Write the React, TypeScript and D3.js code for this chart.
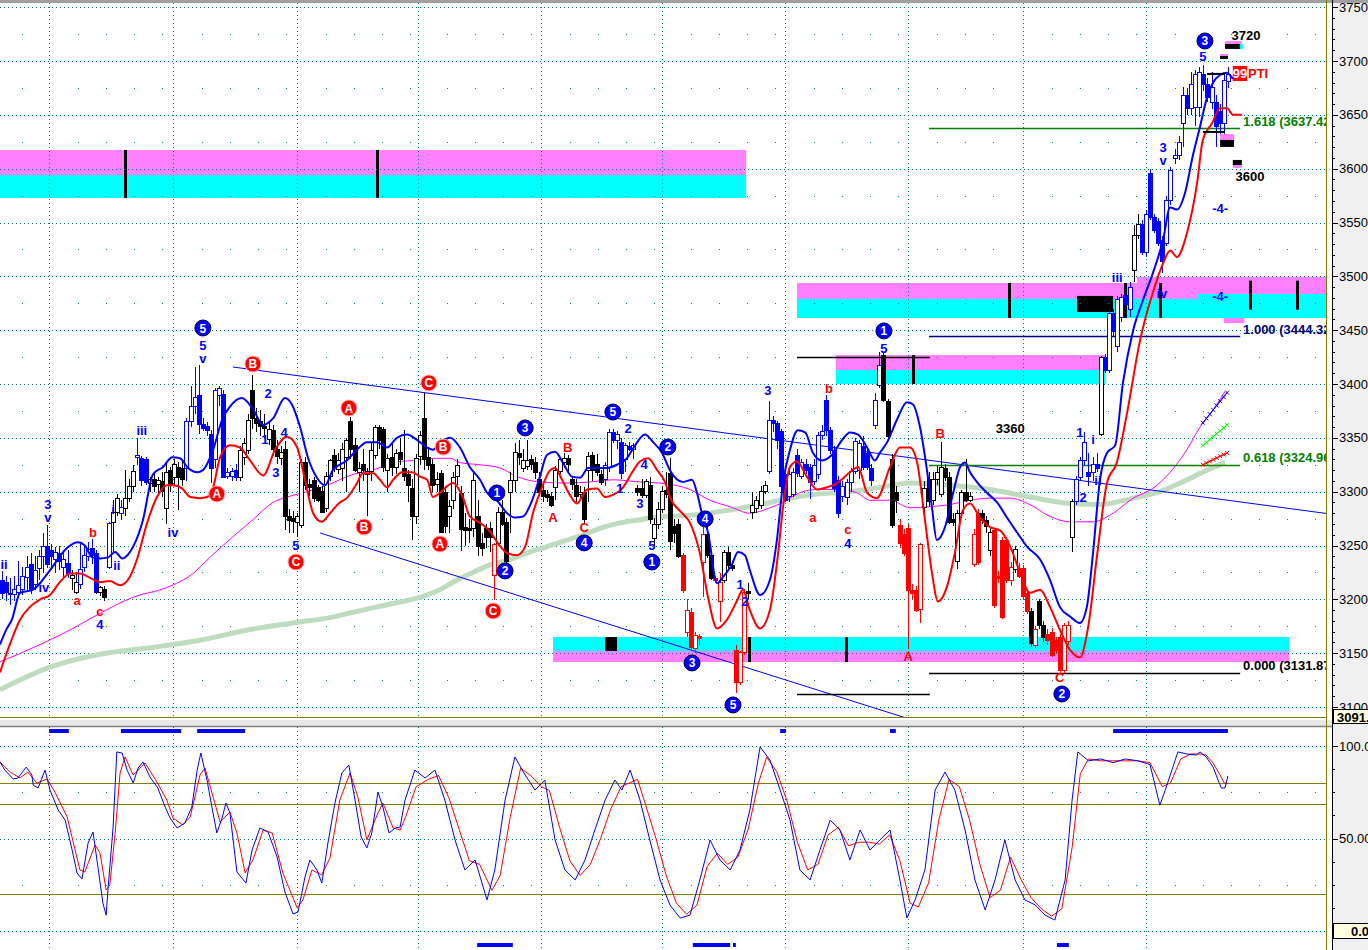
import React from "react";
import * as d3 from "d3";

// ---------------- DATA ----------------
const OPEN = [
  3218,3216,3206,3205,3207,3210,3221,3233,3214,3229,
  3240,3250,3246,3237,3243,3230,3234,3220,3207,3214,
  3230,3240,3248,3243,3207,3210,3230,3272,3281,3280,
  3285,3294,3305,3332,3331,3330,3308,3312,3307,3310,
  3285,3320,3314,3323,3322,3322,3366,3380,3390,3363,
  3361,3354,3330,3390,3391,3315,3315,3320,3314,3332,
  3339,3394,3368,3366,3361,3349,3357,3340,3331,3340,
  3277,3276,3272,3269,3328,3307,3311,3304,3301,3285,
  3315,3334,3321,3322,3332,3366,3343,3318,3326,3316,
  3319,3334,3360,3358,3320,3332,3323,3337,3322,3316,
  3303,3277,3333,3368,3332,3326,3307,3317,3300,3277,
  3292,3315,3299,3267,3266,3266,3277,3252,3266,3266,
  3223,3252,3281,3272,3300,3311,3336,3322,3324,3330,
  3328,3312,3302,3298,3296,3304,3319,3328,3331,3312,
  3306,3298,3300,3320,3334,3326,3316,3312,3323,3355,
  3348,3346,3330,3342,3340,3303,3303,3297,3306,3257,
  3270,3284,3302,3317,3268,3270,3241,3170,3188,3155,
  3166,3235,3261,3241,3220,3198,3218,3244,3232,3153,
  3123,3151,3208,3281,3285,3288,3301,3319,3367,3364,
  3356,3316,3296,3298,3334,3315,3326,3323,3310,3316,
  3353,3385,3357,3339,3311,3296,3295,3309,3319,3320,
  3342,3336,3322,3362,3399,3427,3384,3330,3300,3269,
  3261,3266,3209,3209,3191,3286,3312,3292,3312,3298,
  3322,3314,3275,3236,3280,3300,3292,3233,3280,3280,
  3274,3246,3264,3222,3255,3255,3218,3228,3229,3229,
  3206,3189,3158,3198,3176,3168,3170,3162,3165,3134,
  3161,3258,3291,3314,3329,3318,3318,3326,3354,3425,
  3413,3466,3435,3462,3483,3470,3506,3538,3549,3523,
  3596,3555,3551,3534,3531,3571,3610,3613,3642,3668,
  3656,3657,3657,3688,3679,3662,3662,3654,3642,3681,
];
const HIGH = [
  3226,3222,3220,3222,3236,3230,3240,3243,3240,3246,
  3262,3269,3251,3249,3250,3244,3246,3227,3225,3252,
  3250,3253,3256,3246,3212,3212,3272,3292,3298,3292,
  3320,3312,3325,3350,3333,3332,3314,3316,3314,3318,
  3326,3323,3330,3328,3330,3368,3398,3416,3418,3368,
  3365,3357,3396,3398,3394,3322,3322,3326,3342,3350,
  3372,3408,3378,3376,3372,3366,3362,3348,3342,3347,
  3284,3282,3280,3330,3332,3312,3314,3306,3305,3318,
  3330,3340,3336,3345,3350,3369,3350,3328,3340,3322,
  3345,3362,3362,3360,3335,3345,3340,3350,3357,3320,
  3312,3335,3356,3392,3340,3330,3318,3320,3305,3292,
  3318,3330,3305,3280,3275,3318,3292,3262,3270,3272,
  3252,3286,3292,3276,3318,3345,3348,3340,3348,3334,
  3332,3318,3306,3302,3300,3324,3332,3336,3334,3315,
  3312,3305,3304,3337,3337,3335,3320,3328,3358,3358,
  3356,3350,3345,3346,3345,3306,3312,3312,3314,3276,
  3290,3305,3318,3331,3275,3275,3243,3200,3192,3170,
  3168,3267,3268,3246,3222,3224,3246,3249,3236,3158,
  3152,3210,3215,3300,3296,3305,3310,3384,3370,3366,
  3358,3320,3320,3322,3340,3330,3330,3326,3330,3355,
  3362,3390,3360,3342,3315,3310,3312,3322,3350,3348,
  3352,3340,3326,3392,3430,3430,3386,3335,3305,3275,
  3265,3270,3214,3212,3252,3310,3318,3318,3325,3346,
  3326,3318,3280,3283,3302,3330,3300,3265,3284,3283,
  3277,3266,3266,3226,3258,3258,3235,3250,3234,3232,
  3210,3192,3175,3200,3180,3172,3173,3165,3168,3178,
  3180,3293,3315,3332,3355,3336,3332,3336,3426,3428,
  3470,3470,3482,3484,3490,3495,3548,3558,3552,3562,
  3600,3558,3554,3537,3575,3602,3618,3630,3676,3675,
  3690,3692,3694,3696,3684,3690,3668,3660,3688,3694,
];
const LOW = [
  3200,3198,3195,3198,3201,3204,3208,3205,3209,3218,
  3224,3229,3230,3224,3227,3221,3220,3209,3205,3210,
  3225,3236,3233,3205,3203,3198,3228,3243,3277,3274,
  3277,3290,3300,3325,3305,3306,3300,3300,3298,3295,
  3270,3300,3306,3283,3305,3310,3360,3372,3354,3356,
  3352,3308,3322,3380,3313,3312,3310,3310,3310,3325,
  3335,3358,3355,3352,3350,3343,3333,3326,3325,3264,
  3262,3262,3258,3266,3302,3296,3290,3290,3280,3281,
  3310,3318,3316,3310,3300,3330,3318,3300,3310,3277,
  3310,3330,3340,3318,3300,3315,3316,3325,3310,3290,
  3255,3270,3325,3320,3320,3300,3300,3262,3262,3262,
  3284,3306,3245,3250,3252,3258,3240,3240,3248,3244,
  3199,3250,3268,3232,3262,3300,3325,3318,3320,3320,
  3312,3296,3290,3290,3286,3292,3316,3322,3318,3302,
  3290,3294,3270,3290,3310,3315,3306,3305,3318,3345,
  3340,3312,3318,3338,3330,3296,3294,3294,3270,3250,
  3265,3280,3294,3246,3252,3238,3206,3165,3152,3150,
  3158,3202,3238,3218,3215,3179,3215,3228,3226,3113,
  3120,3148,3200,3275,3280,3284,3298,3316,3355,3340,
  3300,3290,3290,3295,3314,3312,3316,3293,3306,3312,
  3348,3352,3335,3300,3276,3290,3288,3300,3316,3312,
  3320,3320,3305,3358,3396,3383,3350,3266,3280,3248,
  3240,3154,3200,3188,3178,3280,3286,3288,3306,3295,
  3310,3270,3268,3228,3276,3290,3290,3230,3232,3270,
  3262,3240,3192,3215,3182,3215,3212,3224,3220,3200,
  3186,3156,3155,3172,3160,3158,3146,3150,3132,3132,
  3158,3244,3288,3310,3325,3305,3310,3318,3352,3410,
  3410,3445,3430,3458,3470,3462,3495,3535,3520,3518,
  3552,3540,3528,3503,3528,3566,3604,3608,3620,3650,
  3650,3640,3648,3672,3662,3655,3620,3630,3625,3675,
];
const CLOSE = [
  3206,3207,3205,3210,3213,3222,3230,3210,3227,3240,
  3250,3233,3240,3244,3236,3237,3224,3223,3216,3228,
  3241,3247,3241,3207,3211,3202,3271,3281,3294,3286,
  3294,3305,3319,3334,3311,3309,3312,3305,3311,3301,
  3318,3306,3326,3314,3312,3366,3380,3388,3363,3359,
  3357,3322,3394,3396,3314,3318,3319,3314,3339,3345,
  3367,3368,3364,3361,3359,3358,3340,3333,3337,3277,
  3274,3273,3277,3328,3306,3304,3294,3292,3281,3315,
  3329,3323,3329,3340,3348,3340,3320,3322,3320,3319,
  3339,3360,3348,3323,3331,3323,3336,3330,3315,3306,
  3277,3331,3353,3330,3325,3306,3312,3263,3268,3287,
  3314,3325,3265,3264,3264,3311,3250,3248,3258,3258,
  3251,3281,3270,3236,3311,3337,3332,3329,3329,3326,
  3318,3300,3296,3295,3288,3320,3330,3331,3326,3307,
  3296,3300,3275,3333,3320,3318,3309,3325,3355,3348,
  3354,3317,3343,3340,3343,3300,3297,3310,3275,3270,
  3284,3301,3298,3254,3262,3240,3209,3190,3156,3167,
  3164,3261,3241,3220,3218,3216,3244,3232,3229,3123,
  3151,3207,3206,3288,3292,3301,3306,3367,3364,3348,
  3305,3292,3316,3318,3317,3328,3320,3309,3325,3353,
  3356,3357,3339,3303,3280,3305,3309,3319,3347,3345,
  3323,3323,3311,3385,3418,3385,3352,3269,3292,3252,
  3243,3209,3206,3190,3251,3303,3291,3312,3318,3323,
  3314,3272,3272,3280,3300,3292,3296,3261,3235,3274,
  3268,3263,3195,3220,3184,3218,3230,3247,3222,3203,
  3189,3159,3172,3176,3165,3162,3148,3153,3134,3176,
  3176,3291,3312,3329,3346,3315,3326,3322,3425,3413,
  3466,3449,3479,3481,3474,3490,3538,3549,3523,3558,
  3555,3543,3531,3514,3571,3599,3613,3625,3668,3656,
  3679,3688,3690,3679,3667,3676,3640,3642,3682,3688,
];
// b = blue (up-trend), r = red (down-trend), k = neutral black/white
const BAR_COLOR =
  "bbbbbbbbbb" + "bbbbbbbkkb" + "bbbbkkbkkb" + "kkkbbbkkkk" + "kkkkkbbbbb" +
  "bbbbbbbbkk" + "kkkkkkkkkk" + "kkkkkkkkkk" + "kkkkkkkkkk" + "kkkkkkkkkk" +
  "kkkkkkkkkk" + "kkkkkkkkkk" + "rkkkkkkkkk" + "kkkkkkkkkk" + "kkkkkkkbbb" +
  "bbbbbkkkkk" + "kkkkkkrrrr" + "rrkkrrkkkr" + "rrkkkkkbbb" + "bbbbbbbbbb" +
  "bbbbbbbbbb" + "bbbbbkkkkr" + "rrrrrkkkkk" + "kkkkkkkrrk" + "kkrrrrrkrr" +
  "rkrkkrrrrr" + "rkbbbbbbkb" + "bbbbbbkkbb" + "bbbbbbbbbb" + "bbbbbbbbbb";

// indicator lines: [bar index, price]
const BLUE_MA = [
  [-0.5,3158],[1.2,3173],[2.4,3181],[4.4,3206],[7.6,3209],[11.7,3227],[15.9,3248],[18.5,3253],[20.2,3250],[22,3239],
  [23.9,3238],[25.9,3239],[27.6,3244],[29.3,3238],[32,3249],[34.4,3274],[36.8,3316],[39.3,3323],[41.5,3332],[43.4,3331],
  [45.4,3322],[47.6,3318],[49,3320],[51.5,3339],[53.7,3367],[55.6,3379],[58.5,3387],[61,3378],[63.7,3362],[66.1,3368],
  [69,3387],[70.7,3381],[72.7,3360],[74.6,3332],[76.8,3313],[78.8,3306],[80.7,3320],[84.1,3329],[86.6,3339],[89,3346],
  [91.5,3346],[93.9,3341],[96.3,3350],[98.8,3353],[101.2,3348],[103.7,3341],[105.1,3339],[106.8,3345],[109.3,3350],[111.7,3341],
  [114.1,3323],[116.6,3311],[118.3,3299],[120.7,3292],[123.2,3280],[125.1,3276],[127.1,3277],[129.3,3292],[131.2,3314],[132.9,3334],
  [134.9,3337],[136.8,3327],[139,3314],[141,3313],[143,3322],[145.1,3322],[147.6,3322],[150,3325],[152.4,3331],[154.4,3343],
  [156.8,3353],[158.8,3346],[161,3336],[162.9,3320],[166.1,3309],[168.3,3311],[169.5,3299],[170.7,3280],[172.2,3262],[174.4,3215],
  [175.9,3221],[178,3232],[179.5,3244],[181.2,3241],[182.4,3227],[184.9,3204],[187.3,3218],[189,3255],[190.5,3308],[192.2,3339],
  [194.1,3357],[195.9,3355],[197.8,3336],[200,3329],[202.4,3334],[204.9,3348],[206.8,3355],[208.8,3353],[211,3341],[212.9,3329],
  [214.1,3336],[215.9,3346],[218.3,3367],[220.7,3383],[222.2,3381],[223.9,3360],[225.6,3320],[226.8,3286],[228,3255],[230,3267],
  [232,3299],[233.7,3323],[234.9,3327],[236.1,3318],[238,3308],[240.2,3299],[242.7,3290],[245.1,3276],[247.6,3262],[250,3249],
  [253.2,3237],[255.6,3218],[258,3193],[260.5,3184],[262.9,3178],[264.6,3193],[266.1,3243],[267.8,3311],[269.5,3336],[271.5,3343],
  [273.4,3401],[275.9,3450],[278.3,3478],[280.7,3503],[283.2,3534],[284.9,3564],[286.6,3562],[288.5,3577],[290.5,3613],[292.2,3639],
  [293.9,3666],[295.4,3680],[297.1,3687],[298.8,3689],[300.2,3684],[302.4,3682],
];
const RED_MA = [
  [-0.5,3132],[2,3159],[4.4,3181],[6.8,3193],[9.3,3200],[11.7,3204],[14.1,3216],[16.6,3224],[19,3224],[21.5,3220],
  [23.9,3216],[26.3,3217],[28.8,3213],[31.2,3221],[32.9,3237],[35.4,3271],[37.8,3295],[40.2,3306],[41.7,3306],[43.9,3303],
  [45.9,3295],[48.3,3294],[50,3295],[51.5,3304],[53.2,3332],[55.6,3343],[58,3341],[60.5,3329],[63.7,3315],[66.6,3339],
  [69.5,3351],[72,3341],[73.9,3311],[75.9,3280],[78,3272],[80,3280],[82.4,3290],[84.1,3294],[86.6,3308],[88,3317],
  [90.5,3317],[92.2,3311],[93.9,3304],[95.4,3311],[97.6,3318],[100,3318],[102,3314],[103.7,3311],[105.1,3295],[106.8,3299],
  [110,3308],[112.4,3295],[114.1,3277],[116.6,3271],[119,3263],[121,3252],[123.2,3243],[125.6,3241],[127.6,3249],[129.5,3280],
  [131.7,3304],[133.7,3320],[134.9,3322],[136.6,3311],[138.5,3297],[140.2,3289],[142.7,3302],[145.1,3303],[147.1,3295],[149,3297],
  [151.5,3304],[153.7,3318],[155.6,3328],[157.6,3331],[159.8,3320],[161.7,3309],[162.9,3295],[165.9,3280],[167.8,3271],[170.2,3243],
  [172.2,3202],[174.4,3173],[176.8,3181],[179.3,3199],[180.7,3209],[182.4,3190],[184.9,3173],[187.3,3190],[189.3,3243],[190.5,3286],
  [192.2,3323],[193.9,3328],[196.3,3314],[198.8,3302],[201.2,3304],[203.7,3308],[206.8,3318],[208.8,3323],[211,3299],[213.4,3294],
  [216.6,3323],[219,3341],[221.5,3341],[223.2,3327],[225.1,3274],[226.8,3225],[228.3,3198],[230.5,3212],[232.4,3243],[234.4,3283],
  [236.1,3289],[238.5,3276],[241,3267],[243.4,3264],[245.9,3249],[248.3,3225],[250.7,3206],[253.2,3209],[255.6,3193],[258,3172],
  [260.5,3153],[262.9,3146],[264.9,3174],[267.1,3241],[269.5,3308],[271.9,3327],[274.4,3373],[277.6,3441],[280.7,3485],[283.2,3512],
  [284.9,3524],[286.6,3518],[289,3540],[291.5,3587],[292.9,3627],[295.1,3642],[297.1,3656],[298.8,3656],[300.2,3650],[302.4,3650],
];
const MAGENTA_MA = [
  [-0.5,3142],[9.3,3158],[17.3,3173],[23.9,3187],[32,3202],[40.2,3211],[46.6,3224],[50.7,3239],[56.3,3258],[61.2,3274],
  [66.1,3290],[69.5,3295],[73.4,3299],[79.3,3306],[85.6,3316],[90.5,3320],[95.4,3327],[100.2,3329],[105.1,3331],[109.3,3331],
  [111.7,3327],[116.6,3325],[121.5,3322],[125.6,3314],[131.2,3309],[137.8,3308],[143.4,3309],[149,3311],[155.6,3309],[160.5,3308],
  [167.8,3302],[172.7,3292],[177.6,3286],[182.4,3280],[187.3,3285],[190.5,3290],[194.6,3299],[198.8,3302],[203.7,3302],[208.5,3299],
  [211.7,3292],[216.6,3292],[221.5,3285],[226.3,3286],[231.2,3288],[236.1,3292],[241,3294],[245.9,3294],[250.7,3288],[255.6,3277],
  [260.5,3272],[266.1,3272],[271,3280],[275.9,3294],[280.7,3303],[284.9,3318],[289,3339],[292.2,3360],[295.4,3376],[298.3,3393],
];
const GREEN_MA = [
  [-0.5,3116],[11.7,3137],[23.9,3149],[36.1,3155],[48.3,3162],[60.5,3172],[72.7,3179],[80,3183],[85.6,3188],[93.9,3195],
  [102,3202],[106.8,3209],[111,3218],[114.9,3225],[119,3232],[123.2,3236],[128,3243],[132.9,3249],[137.8,3255],[141.7,3260],
  [145.9,3266],[150.7,3271],[155.6,3274],[160.5,3277],[167.8,3278],[177.6,3283],[187.3,3290],[197.1,3297],[206.8,3300],[214.1,3304],
  [221.5,3308],[231.2,3306],[241,3302],[250.7,3295],[260.5,3289],[267.8,3288],[275.9,3294],[282.4,3300],[289,3311],[293.9,3320],
  [298.3,3327],
];
// projection stubs at the right edge: [i0, p0, i1, p1]
const PROJ_BLUE = [292.9, 3364, 298.8, 3392];
const PROJ_GREEN = [292.9, 3343, 298.8, 3362];
const PROJ_RED = [292.9, 3325, 298.8, 3336];

// oscillator (0..100)
const OSC_K = [
  [-0.5,91.4],[0.7,87],[2.7,82.2],[3.9,82.7],[5.9,88.6],[7.3,84.3],[7.6,78.9],[8.8,77.3],[10.5,87],[11.7,76.2],
  [13.7,65.4],[15.4,60],[17.1,43.8],[18.3,31.4],[19.5,28.1],[21,47.6],[22.2,53.5],[23.4,34.6],[24.6,15.1],[25.4,8.6],
  [25.9,23.8],[27.1,56.2],[28,96.8],[29.3,96.2],[30.5,87],[32,80],[33.2,88.1],[34.4,91.4],[36.1,83.2],[38,77.3],
  [39.8,67],[41,61.1],[42.7,55.7],[44.6,58.4],[46.3,67],[47.6,87],[48.5,96.2],[50,81.6],[51.2,67],[52.4,53],
  [53.7,61.1],[54.6,69.2],[55.6,63.8],[57.3,31.9],[59.5,25.9],[61,43.8],[62.9,55.7],[64.9,53.5],[67.1,40],[69,21.1],
  [71,9.2],[72.2,10.3],[73.9,29.2],[75.1,38.4],[76.8,33],[78,25.9],[79.5,47.6],[81.2,69.2],[82.9,85.4],[84.6,89.7],
  [86.1,70.8],[87.6,50.8],[89,44.9],[90.2,53],[91.7,75.1],[92.9,67],[94.4,53],[95.9,55.7],[97.1,56.2],[98.3,70.8],
  [100.7,87],[103.2,82.7],[105.6,87],[108,70.8],[110.5,49.2],[112.9,33],[115.4,38.4],[118.3,16.8],[120.2,33],[122.7,70.8],
  [125.1,94.1],[127.6,84.3],[130,76.2],[132.4,81.6],[134.9,49.2],[137.3,33],[139.8,27.6],[142.2,38.4],[144.6,54.6],[147.1,70.8],
  [149.5,81.6],[151.2,76.2],[153.2,87],[155.6,70.8],[158,49.2],[160.5,27.6],[162.9,14.1],[165.4,7],[167.8,8.6],[170.2,27.6],
  [172.7,49.2],[175.1,38.4],[177.6,33],[180,43.8],[182.4,65.4],[184.9,99.5],[187.3,92.4],[189.8,76.2],[192.2,60],[194.6,33],
  [197.1,27.6],[199.5,43.8],[202,60],[204.4,54.6],[206.8,38.4],[209.3,54.6],[211.7,43.8],[214.1,49.2],[216.6,54.6],[219,27.6],
  [220.7,7],[222.7,16.8],[225.1,33],[227.6,76.2],[230,85.9],[232.4,76.2],[234.9,54.6],[237.3,27.6],[239.8,11.4],[242.2,27.6],
  [244.6,49.2],[247.1,27.6],[249.5,16.8],[252,14.1],[254.4,8.6],[256.8,5.9],[259.3,27.6],[261,70.8],[262.4,96.8],[265,92],
  [268,93],[271,91],[274,93],[277,92],[280,90],[282.4,68],[283.7,76],[286.8,96.8],[289,95.7],[291.3,95.1],
  [292.2,96.8],[293.7,94.1],[295.4,88.6],[296.6,81.6],[297.4,77.3],[298.3,77.3],[299,83.8],
];
const OSC_D = [
  [-0.5,91.4],[2,85.9],[4.4,82.7],[6.3,85.9],[8.5,80],[11,82.2],[12.9,75.1],[15.9,61.6],[19,33],[20.2,31.9],
  [22.7,46.5],[23.9,42.2],[25.4,22.2],[26.3,24.9],[27.6,53],[28.8,85.4],[30,94.1],[32,84.3],[34.9,90.8],[37.8,80.5],
  [40.2,70.8],[41.7,61.1],[44.1,57.3],[45.9,61.6],[48.3,84.3],[49.5,88.1],[51.5,72.4],[53.2,58.9],[55.6,64.3],[57.3,53],
  [59.3,31.4],[61.2,38.4],[63.7,54.6],[65.9,53],[68.5,31.4],[72,12.4],[73.4,16.8],[75.6,33],[78,30.3],[80,39.5],
  [82.4,70.8],[84.9,85.4],[86.8,72.4],[89,49.2],[91.5,62.7],[92.9,69.2],[95.4,55.7],[97.1,54.6],[98.5,62],[101,78],
  [104,82],[106.5,84],[109,72],[111.5,55],[114,38],[116.5,36],[119.5,22],[121.5,30],[124,62],[126.5,88],
  [129,84],[131.5,78],[133.5,76],[136,56],[138.5,38],[141,30],[143.5,36],[146,50],[148.5,66],[151,78],
  [153,80],[155,82],[157,68],[159.5,50],[162,30],[164.5,15],[167,9],[169.5,14],[172,35],[174.5,42],
  [177,36],[179.5,40],[182,55],[184.5,80],[186.5,94],[189,86],[191.5,70],[194,48],[196.5,33],[199,36],
  [201.5,52],[204,56],[206.5,46],[209,48],[211.5,48],[214,47],[216.5,52],[219,38],[221.5,15],[223.5,13],
  [226,26],[228.5,60],[231,82],[233.5,78],[236,60],[238.5,36],[241,18],[243.5,22],[246,40],[248.5,28],
  [251,18],[253.5,12],[256,8],[258.5,12],[261,45],[263,85],[265,93],[268,92],[271,92],[274,92],
  [277,92],[280,91],[283,78],[285,80],[287.5,93],[290,95.7],[292.2,95.7],[293.7,95.1],[295.4,90.8],[297.1,84.3],
  [298.1,80],[299,79.5],
];
const OSC_LEVELS = [80, 68.6, 20];

// zones: [i0, i1, priceTop, priceBottom]
const MAGENTA_ZONES = [
  [-1, 181.5, 3617.3, 3594.1],
  [193.9, 324, 3493.8, 3479.0],
  [276.8, 324, 3499.4, 3493.8],
  [298, 303, 3461.3, 3456.6],
  [203.4, 269.2, 3426.9, 3413.0],
  [134.4, 314, 3152.0, 3141.8],
];
const CYAN_ZONES = [
  [-1, 181.5, 3594.1, 3572.8],
  [193.9, 324, 3479.0, 3461.3],
  [291.5, 324, 3483.6, 3479.0],
  [203.4, 269.2, 3413.0, 3400.0],
  [134.4, 314, 3165.0, 3152.0],
];
const BLACK_BLOCKS = [
  [262.2, 271, 3481.8, 3466.9],
  [147.1, 150, 3165.0, 3152.0],
];
// vertical black markers: [i, priceTop, priceBottom]
const MARKERS = [
  [30, 3617.3, 3572.8], [91.5, 3617.3, 3572.8],
  [245.6, 3493.8, 3461.3], [273.9, 3493.8, 3461.3], [282.4, 3493.8, 3461.3],
  [304.4, 3496, 3469], [315.9, 3496, 3469],
  [222.2, 3426.9, 3400], [182.2, 3165, 3141.8], [205.9, 3165, 3141.8],
];
// fib levels
const FIB_LEVELS = [
  { label: "1.618 (3637.42)", price: 3637.42, color: "#008000" },
  { label: "1.000 (3444.32)", price: 3444.32, color: "#000080" },
  { label: "0.618 (3324.96)", price: 3324.96, color: "#008000" },
  { label: "0.000 (3131.87)", price: 3131.87, color: "#000000" },
];
const FIB_SPAN = [226.1, 302];
const SWING_LINES = [[193.9, 226.3, 3425.1], [193.9, 226.3, 3112.1]];
// trend channel: [i0, p0, i1, p1]
const TRENDLINES = [[56.3, 3415.8, 323.9, 3279.3], [77.6, 3261.6, 222, 3088]];

const BLUE_CIRCLES = [
  ["5", 49, 3452], ["1", 120.7, 3298.8], ["2", 122.7, 3226.4], ["3", 127.6, 3359.2], ["4", 142, 3252.4],
  ["5", 149, 3374], ["1", 158.5, 3234.7], ["2", 162.4, 3341.5], ["4", 171.5, 3274.7], ["3", 168.3, 3140.9],
  ["5", 178.3, 3101.9], ["1", 215.1, 3449.3], ["2", 258.5, 3112.1], ["3", 293.4, 3718.6],
];
const RED_CIRCLES = [
  ["A", 52.4, 3297.9], ["B", 61.2, 3418.6], ["C", 71.7, 3234.7], ["A", 84.6, 3377.7], ["B", 88.3, 3267.2],
  ["C", 104.1, 3401], ["B", 107.6, 3341.5], ["A", 106.8, 3251.4], ["C", 119.8, 3189.2],
];
const BLUE_TEXT = [
  ["ii", 0.5, 3232], ["3", 11.2, 3288], ["v", 11.2, 3276], ["iv", 10.2, 3211], ["4", 23.9, 3177],
  ["i", 27.1, 3283], ["ii", 28, 3231], ["iii", 34.1, 3357], ["iv", 41.7, 3262], ["5", 49, 3436], ["v", 49, 3424],
  ["2", 64.9, 3391], ["1", 64.1, 3348], ["4", 68.8, 3355], ["3", 66.8, 3318], ["5", 71.7, 3250],
  ["2", 152.7, 3359], ["1", 150.7, 3303], ["4", 156.6, 3325], ["3", 155.6, 3289], ["5", 158.5, 3250],
  ["3", 186.8, 3394], ["1", 180, 3214], ["2", 181.2, 3198], ["4", 206.3, 3252], ["5", 215.1, 3433],
  ["1", 262.9, 3355], ["i", 266.1, 3348], ["2", 263.7, 3295], ["ii", 267.3, 3310], ["iii", 272, 3499],
  ["3", 283.2, 3620], ["v", 283.2, 3608], ["iv", 282.9, 3484], ["5", 292.9, 3704],
  ["-4-", 297.1, 3563], ["-4-", 297.1, 3481],
];
const RED_TEXT = [
  ["a", 18.3, 3199], ["b", 22.2, 3262], ["c", 23.9, 3189], ["A", 134.4, 3276], ["B", 138, 3341],
  ["C", 142, 3267], ["a", 197.8, 3276], ["b", 201.7, 3396], ["c", 206.3, 3265], ["B", 228.8, 3354],
  ["A", 221, 3147], ["C", 258, 3127],
];
const BLACK_TEXT = [["3360", 245.9, 3359], ["3720", 303.4, 3724], ["3600", 304.4, 3593]];

// small target markers (top right): [i0, i1, pTop, pMid, pBottom, topColor, bottomColor]
const TARGET_MARKS = [
  [298.3, 302.4, 3718.6, 3715.8, 3711.2, "#ff80ff", "#000000"],
  [297.1, 299.0, 3706.5, 3704.7, 3701.9, "#ff80ff", "#000000"],
  [297.1, 300.5, 3632.2, 3626.7, 3620.2, "#ff80ff", "#000000"],
  [300.2, 302.4, 3608.1, 3603.4, 3600.7, "#000000", "#ff80ff"],
];
const TARGET_LINES = [[293.9, 298.3, 3688], [292.9, 298.3, 3634.1]];

const STRIP_TOP = [[11.5, 16.3], [29, 43.7], [47.6, 59.3], [189.8, 191.2], [216.6, 218], [271, 299]];
const STRIP_BOTTOM = [[115.9, 124.6], [168.5, 177.6], [178.3, 179], [257.3, 260.2]];

const PRICE_TICKS = d3.range(3100, 3751, 50);
const GRID_BARS = [11.5, 41.7, 72, 101.5, 131.5, 161, 191, 221, 249, 279];
const LAST_PRICE = "3091.";
const LAST_OSC = "0.0";

// ---------------- CHART ----------------
export default function App() {
  const W = 1368, H = 950;
  const PR = 1326; // plot right edge
  const MT = 3, MB = 717, LT = 727, LB = 950;
  const xs = d3.scaleLinear().domain([0, 299]).range([2, 2 + 299 * 4.1]);
  const ys = d3.scaleLinear().domain([3100, 3700]).range([707, 61]);
  const yo = d3.scaleLinear().domain([0, 100]).range([931, 746]);
  const font = "'Liberation Sans', Arial, sans-serif";
  const teal = "#008080";

  const ma = d3.line<number[]>().x((d) => xs(d[0])).y((d) => ys(d[1])).curve(d3.curveMonotoneX);
  const osc = d3.line<number[]>().x((d) => xs(d[0])).y((d) => yo(d[1]));

  const gridX = GRID_BARS.map((g) => Math.round(xs(g)) + 0.5);
  const minorX: number[] = [];
  const bounds = [gridX[0] - 56, ...gridX, PR];
  for (let k = 0; k < bounds.length - 1; k++) {
    for (let v = bounds[k] + 28; v < bounds[k + 1] - 6; v += 28) if (v > 0) minorX.push(v);
  }
  const minorRows = d3.range(3125, 3751, 50);

  const colorOf = (c: string) => (c === "b" ? "#0000ff" : c === "r" ? "#ff0000" : "#000000");

  const projPath = (p: number[]) => `M${xs(p[0])},${ys(p[1])}L${xs(p[2])},${ys(p[3])}`;
  const projMarks = (p: number[], col: string) => {
    const out = [];
    const n = 7;
    for (let k = 0; k <= n; k++) {
      const i = p[0] + ((p[2] - p[0]) * k) / n;
      const pr = p[1] + ((p[3] - p[1]) * k) / n;
      const cx = xs(i), cy = ys(pr);
      out.push(<path key={k} d={`M${cx - 2},${cy - 2}L${cx + 2},${cy + 2}M${cx - 2},${cy + 2}L${cx + 2},${cy - 2}`} stroke={col} strokeWidth={1} />);
    }
    return out;
  };

  return (
    <div style={{ position: "absolute", left: 0, top: 0, width: W, height: H, background: "#fff" }}>
      <svg width={W} height={H} style={{ display: "block" }}>
        <defs>
          <clipPath id="mainClip"><rect x={0} y={MT} width={PR} height={MB - MT} /></clipPath>
          <clipPath id="lowClip"><rect x={0} y={LT} width={PR} height={LB - LT} /></clipPath>
        </defs>
        <rect x={0} y={0} width={W} height={H} fill="#ffffff" />
        {/* axis strip background */}
        <rect x={1333} y={0} width={W - 1333} height={H} fill="#f0f0f0" />
        <rect x={0} y={0} width={W} height={3} fill="#a0a0a0" />

        {/* ---------- MAIN PANEL ---------- */}
        <g clipPath="url(#mainClip)">
          {/* zones */}
          {MAGENTA_ZONES.map((z, k) => (
            <rect key={"mz" + k} x={xs(z[0])} y={ys(z[2])} width={xs(z[1]) - xs(z[0])} height={ys(z[3]) - ys(z[2])} fill="#ff80ff" />
          ))}
          {CYAN_ZONES.map((z, k) => (
            <rect key={"cz" + k} x={xs(z[0])} y={ys(z[2])} width={xs(z[1]) - xs(z[0])} height={ys(z[3]) - ys(z[2])} fill="#00ffff" />
          ))}
          {BLACK_BLOCKS.map((z, k) => (
            <rect key={"bb" + k} x={xs(z[0])} y={ys(z[2])} width={xs(z[1]) - xs(z[0])} height={ys(z[3]) - ys(z[2])} fill="#000" />
          ))}
          {MARKERS.map((m, k) => (
            <rect key={"mk" + k} x={Math.round(xs(m[0])) - 1} y={ys(m[1])} width={3} height={ys(m[2]) - ys(m[1])} fill="#000" />
          ))}

          {/* grid */}
          {PRICE_TICKS.map((p) => (
            <line key={"hg" + p} x1={0} x2={PR} y1={Math.round(ys(p)) + 0.5} y2={Math.round(ys(p)) + 0.5} stroke={teal} strokeDasharray="1 3" />
          ))}
          {gridX.map((gx, k) => (
            <line key={"vg" + k} x1={gx} x2={gx} y1={MT} y2={MB} stroke={teal} strokeDasharray="1 3" />
          ))}
          {minorRows.map((p) =>
            minorX.map((mx, k) => <rect key={"md" + p + "_" + k} x={Math.round(mx)} y={Math.round(ys(p))} width={1} height={1} fill={teal} />)
          )}

          {/* slow lines */}
          <path d={ma(GREEN_MA) || ""} fill="none" stroke="#c0dcc0" strokeWidth={5} />
          <path d={ma(MAGENTA_MA) || ""} fill="none" stroke="#ff00ff" strokeWidth={1} />

          {/* trend channel */}
          {TRENDLINES.map((t, k) => (
            <line key={"tl" + k} x1={xs(t[0])} y1={ys(t[1])} x2={xs(t[2])} y2={ys(t[3])} stroke="#0000ff" strokeWidth={1} />
          ))}

          {/* fib levels */}
          {FIB_LEVELS.map((f, k) => (
            <line key={"fl" + k} x1={xs(FIB_SPAN[0])} x2={xs(FIB_SPAN[1])} y1={Math.round(ys(f.price)) + 0.5} y2={Math.round(ys(f.price)) + 0.5} stroke={f.color} strokeWidth={1.3} />
          ))}
          {SWING_LINES.map((s, k) => (
            <line key={"sw" + k} x1={xs(s[0])} x2={xs(s[1])} y1={Math.round(ys(s[2])) + 0.5} y2={Math.round(ys(s[2])) + 0.5} stroke="#000" strokeWidth={1.3} />
          ))}

          {/* candles */}
          {OPEN.map((o, i) => {
            const c = CLOSE[i];
            const col = colorOf(BAR_COLOR[i]);
            const up = c >= o;
            const r = Math.round(xs(i));
            const yTop = Math.round(ys(Math.max(o, c)));
            const yBot = Math.round(ys(Math.min(o, c)));
            return (
              <g key={"c" + i}>
                <line x1={r + 0.5} x2={r + 0.5} y1={Math.round(ys(HIGH[i]))} y2={Math.round(ys(LOW[i]))} stroke={col} strokeWidth={1} />
                <rect x={r - 1.5} y={yTop + 0.5} width={4} height={Math.max(1, yBot - yTop)} fill={up ? "#ffffff" : col} stroke={col} strokeWidth={1} />
              </g>
            );
          })}

          {/* fast lines */}
          <path d={ma(RED_MA) || ""} fill="none" stroke="#ff0000" strokeWidth={2} />
          <path d={ma(BLUE_MA) || ""} fill="none" stroke="#0000ff" strokeWidth={2} />

          {/* projection stubs */}
          <path d={projPath(PROJ_BLUE)} stroke="#0000ff" />
          {projMarks(PROJ_BLUE, "#0000ff")}
          <path d={projPath(PROJ_GREEN)} stroke="#00ff00" />
          {projMarks(PROJ_GREEN, "#00ff00")}
          <path d={projPath(PROJ_RED)} stroke="#ff0000" />
          {projMarks(PROJ_RED, "#ff0000")}

          {/* targets */}
          {TARGET_MARKS.map((t, k) => (
            <g key={"tm" + k}>
              <rect x={xs(t[0] as number)} y={ys(t[2] as number)} width={xs(t[1] as number) - xs(t[0] as number)} height={ys(t[3] as number) - ys(t[2] as number)} fill={t[5] as string} />
              <rect x={xs(t[0] as number)} y={ys(t[3] as number)} width={xs(t[1] as number) - xs(t[0] as number)} height={ys(t[4] as number) - ys(t[3] as number)} fill={t[6] as string} />
            </g>
          ))}
          <rect x={xs(301.9)} y={ys(3715.8)} width={3} height={ys(3711.2) - ys(3715.8)} fill="#00ffff" />
          {TARGET_LINES.map((t, k) => (
            <line key={"tg" + k} x1={xs(t[0])} x2={xs(t[1])} y1={ys(t[2])} y2={ys(t[2])} stroke="#000" strokeWidth={2} />
          ))}
          <rect x={xs(300.2)} y={ys(3695.4)} width={xs(303.7) - xs(300.2)} height={ys(3681.4) - ys(3695.4)} fill="#ff0000" />
          <text x={xs(301.95)} y={ys(3688.4)} fill="#fff" fontFamily={font} fontWeight="bold" fontSize={13} textAnchor="middle" dominantBaseline="central">99</text>
          <text x={xs(303.9)} y={ys(3688.4)} fill="#ff0000" fontFamily={font} fontWeight="bold" fontSize={13} dominantBaseline="central">PTI</text>

          {/* fib labels */}
          {FIB_LEVELS.map((f, k) => (
            <text key={"ft" + k} x={xs(302.7)} y={ys(f.price) - 7} fill={f.color} fontFamily={font} fontWeight="bold" fontSize={13} dominantBaseline="central">{f.label}</text>
          ))}

          {/* wave labels */}
          {BLUE_TEXT.map((t, k) => (
            <text key={"bt" + k} x={xs(t[1] as number)} y={ys(t[2] as number)} fill="#0000ff" fontFamily={font} fontWeight="bold" fontSize={13} textAnchor="middle" dominantBaseline="central">{t[0]}</text>
          ))}
          {RED_TEXT.map((t, k) => (
            <text key={"rt" + k} x={xs(t[1] as number)} y={ys(t[2] as number)} fill="#ff0000" fontFamily={font} fontWeight="bold" fontSize={13} textAnchor="middle" dominantBaseline="central">{t[0]}</text>
          ))}
          {BLACK_TEXT.map((t, k) => (
            <text key={"kt" + k} x={xs(t[1] as number)} y={ys(t[2] as number)} fill="#000" fontFamily={font} fontWeight="bold" fontSize={13} textAnchor="middle" dominantBaseline="central">{t[0]}</text>
          ))}
          {BLUE_CIRCLES.map((t, k) => (
            <g key={"bc" + k}>
              <circle cx={xs(t[1] as number)} cy={ys(t[2] as number)} r={8} fill="#0000ff" stroke="#000040" strokeWidth={1} />
              <text x={xs(t[1] as number)} y={ys(t[2] as number) + 0.5} fill="#fff" fontFamily={font} fontWeight="bold" fontSize={12} textAnchor="middle" dominantBaseline="central">{t[0]}</text>
            </g>
          ))}
          {RED_CIRCLES.map((t, k) => (
            <g key={"rc" + k}>
              <circle cx={xs(t[1] as number)} cy={ys(t[2] as number)} r={8} fill="#ff0000" stroke="#ffb0b0" strokeWidth={1} />
              <text x={xs(t[1] as number)} y={ys(t[2] as number) + 0.5} fill="#fff" fontFamily={font} fontWeight="bold" fontSize={12} textAnchor="middle" dominantBaseline="central">{t[0]}</text>
            </g>
          ))}
        </g>

        {/* panel separator */}
        <line x1={0} x2={PR} y1={717.5} y2={717.5} stroke="#808000" strokeWidth={1} />
        <rect x={0} y={720} width={1333} height={6} fill="#e8e8e8" />
        <line x1={0} x2={1333} y1={726.5} y2={726.5} stroke="#808080" strokeWidth={1.5} />

        {/* ---------- LOWER PANEL ---------- */}
        <g clipPath="url(#lowClip)">
          {[100, 50, 0].map((v) => (
            <line key={"og" + v} x1={0} x2={PR} y1={Math.round(yo(v)) + 0.5} y2={Math.round(yo(v)) + 0.5} stroke={teal} strokeDasharray="1 3" />
          ))}
          {gridX.map((gx, k) => (
            <line key={"ovg" + k} x1={gx} x2={gx} y1={LT} y2={LB} stroke={teal} strokeDasharray="1 3" />
          ))}
          {[75, 25].map((v) =>
            minorX.map((mx, k) => <rect key={"omd" + v + "_" + k} x={Math.round(mx)} y={Math.round(yo(v))} width={1} height={1} fill={teal} />)
          )}
          {OSC_LEVELS.map((v) => (
            <line key={"ol" + v} x1={0} x2={PR} y1={Math.round(yo(v)) + 0.5} y2={Math.round(yo(v)) + 0.5} stroke="#808000" strokeWidth={1} />
          ))}
          {STRIP_TOP.map((s, k) => (
            <rect key={"st" + k} x={xs(s[0])} y={729} width={xs(s[1]) - xs(s[0])} height={4} fill="#0000ff" />
          ))}
          {STRIP_BOTTOM.map((s, k) => (
            <rect key={"sb" + k} x={xs(s[0])} y={943} width={xs(s[1]) - xs(s[0])} height={4} fill="#0000ff" />
          ))}
          <path d={osc(OSC_D) || ""} fill="none" stroke="#ff0000" strokeWidth={1} />
          <path d={osc(OSC_K) || ""} fill="none" stroke="#0000ff" strokeWidth={1} />
        </g>

        {/* ---------- RIGHT AXIS ---------- */}
        <line x1={PR + 0.5} x2={PR + 0.5} y1={0} y2={H} stroke="#808000" strokeWidth={1} />
        <line x1={1332.5} x2={1332.5} y1={0} y2={H} stroke="#000" strokeWidth={1} />
        {d3.range(3100, 3751, 10).map((p) => (
          <line key={"mt" + p} x1={1333} x2={p % 50 === 0 ? 1338 : 1335} y1={Math.round(ys(p)) + 0.5} y2={Math.round(ys(p)) + 0.5} stroke="#000" />
        ))}
        {PRICE_TICKS.map((p) => (
          <text key={"pl" + p} x={1339} y={ys(p)} fontFamily={font} fontSize={13} fill="#000" dominantBaseline="central">{p}</text>
        ))}
        <rect x={1333.5} y={709.5} width={40} height={14} fill="#ffffe0" stroke="#000" />
        <text x={1337} y={717} fontFamily={font} fontWeight="bold" fontSize={13} fill="#000" dominantBaseline="central">{LAST_PRICE}</text>
        {d3.range(0, 101, 12.5).map((v) => (
          <line key={"ot" + v} x1={1333} x2={v % 50 === 0 ? 1338 : 1335} y1={Math.round(yo(v)) + 0.5} y2={Math.round(yo(v)) + 0.5} stroke="#000" />
        ))}
        <text x={1339} y={yo(100)} fontFamily={font} fontSize={13} fill="#000" dominantBaseline="central">100.0</text>
        <text x={1339} y={yo(50)} fontFamily={font} fontSize={13} fill="#000" dominantBaseline="central">50.00</text>
        <rect x={1333.5} y={923.5} width={40} height={15} fill="#ffffe0" stroke="#000" />
        <text x={1351} y={931} fontFamily={font} fontWeight="bold" fontSize={13} fill="#000" dominantBaseline="central">{LAST_OSC}</text>
      </svg>
    </div>
  );
}
